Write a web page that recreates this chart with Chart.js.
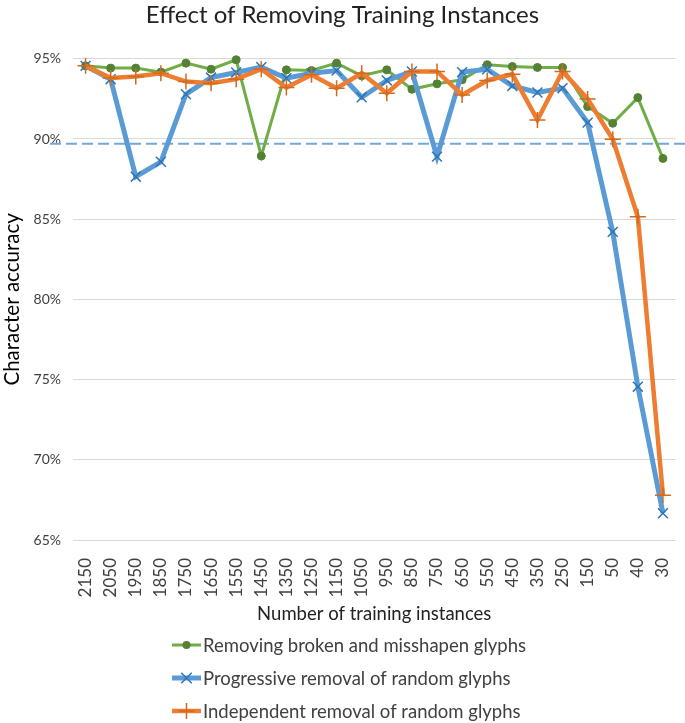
<!DOCTYPE html>
<html>
<head>
<meta charset="utf-8">
<script src="https://cdn.jsdelivr.net/npm/chart.js@4.4.0/dist/chart.umd.min.js"></script>
<style>
    html, body { margin: 0; padding: 0; background: #fff; }
</style>
</head>
<body>
<canvas id="chart" width="685" height="723"></canvas>
<script>
    // Chart data
    const categories = ['2150', '2050', '1950', '1850', '1750', '1650', '1550', '1450', '1350', '1250', '1150', '1050',
        '950', '850', '750', '650', '550', '450', '350', '250', '150', '50', '40', '30'];
    const brokenGlyphs = [94.56, 94.42, 94.42, 94.17, 94.73, 94.35, 94.94, 88.94, 94.31, 94.27, 94.73, 93.94,
        94.31, 93.10, 93.44, 93.69, 94.63, 94.52, 94.46, 94.46, 92.02, 90.98, 92.58, 88.79];
    const progressiveRandom = [94.56, 93.73, 87.65, 88.58, 92.79, 93.83, 94.15, 94.48, 93.79, 94.10, 94.27, 92.60,
        93.65, 94.21, 88.90, 94.17, 94.35, 93.31, 92.90, 93.17, 91.02, 84.21, 74.56, 66.67];
    const independentRandom = [94.56, 93.80, 93.90, 94.10, 93.58, 93.48, 93.73, 94.35, 93.21, 94.00, 93.17, 94.10,
        92.85, 94.21, 94.21, 92.75, 93.65, 94.04, 91.19, 94.21, 92.50, 89.98, 85.15, 67.79];
    const baselineAccuracy = 89.7;
    const yMin = 65;
    const yMax = 95;
    const yStep = 5;

    const FONT = 'Lato, "Open Sans", sans-serif';
    const TEXT = '#404040';

    /**
     * Draw a small legend marker
     */
    function drawMarker(ctx, style, x, y, r, color) {
        ctx.save();
        ctx.strokeStyle = color;
        ctx.fillStyle = color;
        ctx.lineWidth = 1.5;
        ctx.beginPath();
        if (style === 'circle') {
            ctx.arc(x, y, r, 0, Math.PI * 2);
            ctx.fill();
        } else if (style === 'crossRot') {
            const d = r * 0.75;
            ctx.moveTo(x - d, y - d); ctx.lineTo(x + d, y + d);
            ctx.moveTo(x + d, y - d); ctx.lineTo(x - d, y + d);
            ctx.stroke();
        } else {
            ctx.moveTo(x - r, y); ctx.lineTo(x + r, y);
            ctx.moveTo(x, y - r); ctx.lineTo(x, y + r);
            ctx.stroke();
        }
        ctx.restore();
    }

    // Dashed reference line across the plot
    const baselinePlugin = {
        id: 'baseline',
        beforeDatasetsDraw(chart) {
            const y = chart.scales.y.getPixelForValue(baselineAccuracy);
            const ctx = chart.ctx;
            ctx.save();
            ctx.strokeStyle = '#6FA8DC';
            ctx.lineWidth = 2;
            ctx.setLineDash([11, 5]);
            ctx.beginPath();
            ctx.moveTo(chart.chartArea.left - 23, y);
            ctx.lineTo(chart.width, y);
            ctx.stroke();
            ctx.restore();
        }
    };

    // One legend row per series, stacked like the original
    const stackedLegend = {
        id: 'stackedLegend',
        afterDraw(chart) {
            const ctx = chart.ctx;
            const startY = 645;
            chart.data.datasets.forEach((ds, i) => {
                const y = startY + i * 33;
                ctx.save();
                ctx.strokeStyle = ds.borderColor;
                ctx.lineWidth = ds.borderWidth;
                ctx.beginPath();
                ctx.moveTo(172, y);
                ctx.lineTo(201, y);
                ctx.stroke();
                ctx.restore();
                drawMarker(ctx, ds.pointStyle, 186.5, y, ds.pointRadius, ds.pointBorderColor);
                ctx.save();
                ctx.fillStyle = TEXT;
                ctx.font = '18.5px ' + FONT;
                ctx.textBaseline = 'middle';
                ctx.fillText(ds.label, 203, y + 1);
                ctx.restore();
            });
        }
    };

    new Chart(document.getElementById('chart').getContext('2d'), {
        type: 'line',
        data: {
            labels: categories,
            datasets: [
                {
                    label: 'Removing broken and misshapen glyphs',
                    data: brokenGlyphs,
                    borderColor: '#70AD47',
                    borderWidth: 3,
                    pointStyle: 'circle',
                    pointRadius: 4,
                    pointBackgroundColor: '#548235',
                    pointBorderColor: '#548235',
                    pointBorderWidth: 1,
                    tension: 0,
                    clip: false,
                    order: 3,
                },
                {
                    label: 'Progressive removal of random glyphs',
                    data: progressiveRandom,
                    borderColor: '#5B9BD5',
                    borderWidth: 5,
                    pointStyle: 'crossRot',
                    pointRadius: 7,
                    pointBorderColor: '#2E75B6',
                    pointBorderWidth: 1.5,
                    tension: 0,
                    clip: false,
                    order: 2,
                },
                {
                    label: 'Independent removal of random glyphs',
                    data: independentRandom,
                    borderColor: '#ED7D31',
                    borderWidth: 4.5,
                    pointStyle: 'cross',
                    pointRadius: 8,
                    pointBorderColor: '#D2691E',
                    pointBorderWidth: 1.5,
                    tension: 0,
                    clip: false,
                    order: 1,
                }
            ]
        },
        options: {
            responsive: false,
            animation: false,
            layout: {
                padding: { top: 0, right: 0, bottom: 95, left: 0 }
            },
            plugins: {
                legend: { display: false },
                tooltip: { enabled: false },
                title: {
                    display: true,
                    text: 'Effect of Removing Training Instances',
                    color: '#222',
                    font: { family: FONT, size: 24, weight: 'normal' },
                    padding: { top: 1, bottom: 29 }
                }
            },
            scales: {
                x: {
                    offset: true,
                    grid: { display: false },
                    border: { display: false },
                    ticks: {
                        color: TEXT,
                        font: { family: FONT, size: 17 },
                        maxRotation: 90,
                        minRotation: 90,
                        autoSkip: false,
                        padding: 10
                    },
                    title: {
                        display: true,
                        text: 'Number of training instances',
                        color: '#222',
                        font: { family: FONT, size: 18.5 },
                        padding: { top: 2, bottom: 3 }
                    },
                    afterFit(scale) {
                        scale.height = 88;
                        scale.paddingLeft = 0;
                        scale.paddingRight = 0;
                    }
                },
                y: {
                    min: yMin,
                    max: yMax,
                    grid: { color: '#D9D9D9', lineWidth: 1, drawTicks: false },
                    border: { display: false },
                    ticks: {
                        stepSize: yStep,
                        color: TEXT,
                        font: { family: FONT, size: 14 },
                        padding: 12,
                        callback: v => v + '%'
                    },
                    title: {
                        display: true,
                        text: 'Character accuracy',
                        color: '#000',
                        font: { family: FONT, size: 20.5 },
                        padding: { top: 0, bottom: 4 }
                    },
                    afterFit(scale) { scale.width = 73; }
                }
            }
        },
        plugins: [baselinePlugin, stackedLegend]
    });
</script>
</body>
</html>
